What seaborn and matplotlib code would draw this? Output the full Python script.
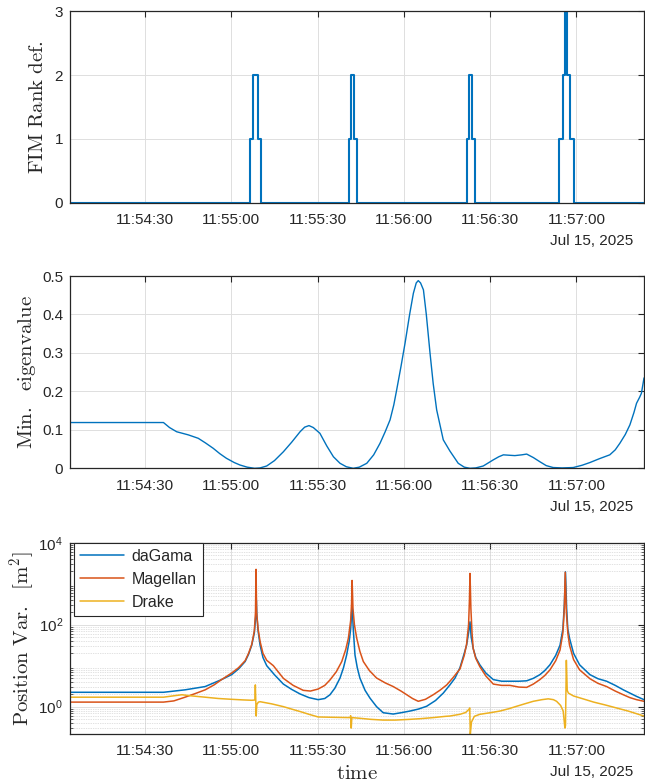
import numpy as np
import pandas as pd
import matplotlib
matplotlib.use("Agg")
import matplotlib.pyplot as plt
import matplotlib.dates as mdates
from matplotlib.ticker import LogLocator, NullFormatter, FixedLocator
import seaborn as sns

sns.set_theme(style="white")
plt.rcParams["font.family"] = ["Liberation Sans", "DejaVu Sans"]
plt.rcParams["mathtext.fontset"] = "cm"

# ---------------- data (seconds after 11:54:00, Jul 15 2025) ----------------
START = pd.Timestamp("2025-07-15 11:54:00")
X_START, X_END = 3.9, 203.5

rank_t = [3.9, 66.6, 67.6, 69.2, 70.4, 100.9, 101.6, 102.5, 103.6,
          141.8, 142.5, 143.8, 144.8, 174.0, 175.4, 176.2, 176.6, 177.6, 179.0, 203.5]
rank_v = [0, 1, 2, 1, 0, 1, 2, 1, 0, 1, 2, 1, 0, 1, 2, 3, 2, 1, 0, 0]

eig_t = [3.9, 36.4, 38.5, 41.0, 45.0, 48.5, 51.0, 53.7, 56.0, 58.3, 61.0, 63.0, 65.5,
         68.1, 70.0, 72.3, 75.0, 78.1, 81.0, 83.9, 85.5, 87.0, 88.5, 90.8, 93.2, 95.5,
         97.8, 100.0, 102.4, 104.5, 107.1, 109.5, 111.7, 113.5, 115.2, 116.5, 117.5,
         119.0, 120.4, 122.0, 123.3, 124.3, 125.0, 125.8, 126.8, 127.8, 129.1, 130.2,
         131.4, 133.7, 136.0, 138.9, 141.0, 143.0, 145.0, 147.6, 151.1, 153.0, 154.6,
         156.5, 158.6, 161.0, 162.7, 165.0, 167.3, 169.5, 171.9, 175.0, 178.9, 182.0,
         184.7, 188.0, 191.6, 193.5, 195.1, 197.0, 198.6, 200.0, 200.9, 202.0, 202.6, 203.5]
eig_v = [0.119, 0.119, 0.106, 0.095, 0.087, 0.078, 0.066, 0.052, 0.038, 0.026, 0.015,
         0.0086, 0.003, 0.0, 0.001, 0.006, 0.020, 0.043, 0.068, 0.095, 0.107, 0.111,
         0.106, 0.091, 0.058, 0.030, 0.013, 0.004, 0.0, 0.003, 0.013, 0.035, 0.065,
         0.095, 0.126, 0.165, 0.204, 0.265, 0.325, 0.400, 0.455, 0.482, 0.488, 0.482,
         0.464, 0.400, 0.299, 0.220, 0.152, 0.074, 0.045, 0.013, 0.003, 0.0, 0.001,
         0.006, 0.022, 0.030, 0.035, 0.034, 0.033, 0.035, 0.037, 0.028, 0.017, 0.007,
         0.002, 0.001, 0.002, 0.008, 0.015, 0.025, 0.035, 0.048, 0.065, 0.088, 0.113,
         0.145, 0.169, 0.185, 0.195, 0.235]

dagama_t = [3.9, 36.4, 43.9, 50.9, 56.6, 60.1, 62.5, 64.8, 66.0, 67.1, 68.0, 68.5, 68.7,
            68.9, 69.3, 70.0, 71.0, 72.3, 75.0, 78.1, 81.0, 83.9, 87.0, 90.2, 92.5, 94.3,
            96.0, 97.8, 99.0, 100.1, 101.0, 101.5, 102.0, 102.4, 103.0, 103.8, 104.7,
            106.5, 108.2, 110.5, 112.8, 116.3, 119.0, 122.1, 125.0, 127.9, 131.0, 133.7,
            136.0, 137.8, 139.5, 141.0, 141.8, 142.5, 143.0, 143.4, 144.1, 145.0, 146.4,
            148.5, 151.1, 154.0, 156.9, 160.0, 162.7, 165.0, 167.3, 169.0, 170.8, 172.8,
            174.3, 175.3, 175.8, 176.2, 176.6, 177.0, 177.6, 179.0, 181.1, 184.7, 187.5,
            190.5, 193.5, 196.3, 198.6, 200.9, 203.5]
dagama_v = [2.24, 2.24, 2.57, 3.09, 4.57, 6.03, 8.3, 12.6, 19.0, 31.6, 63.0, 160.0, 400.0,
            160.0, 71.0, 31.6, 15.8, 10.0, 6.0, 3.55, 2.63, 2.04, 1.66, 1.48, 1.58, 1.95,
            2.82, 5.0, 8.9, 18.2, 40.0, 79.0, 300.0, 79.0, 18.2, 8.9, 5.0, 2.5, 1.62, 1.0,
            0.71, 0.66, 0.71, 0.78, 0.87, 1.02, 1.41, 2.14, 3.39, 5.0, 8.9, 20.0, 31.6,
            63.0, 117.0, 50.0, 26.3, 15.8, 10.5, 6.6, 4.57, 4.17, 4.17, 4.17, 4.27, 4.9,
            6.03, 7.6, 10.5, 17.8, 31.6, 79.0, 316.0, 1950.0, 250.0, 79.0, 46.8, 20.0,
            10.5, 6.03, 4.8, 4.17, 3.3, 2.57, 2.14, 1.78, 1.48]

magellan_t = [3.9, 36.4, 40.0, 43.9, 47.5, 50.9, 54.0, 56.6, 60.1, 62.5, 64.8, 66.0, 67.1,
              68.0, 68.4, 68.6, 68.8, 69.3, 70.0, 71.0, 72.3, 74.6, 78.1, 81.5, 85.0, 87.5,
              90.2, 92.5, 94.3, 96.5, 98.4, 99.8, 100.7, 101.5, 101.8, 102.0, 102.3, 102.8,
              103.6, 104.7, 105.9, 108.0, 110.5, 113.5, 116.3, 119.0, 121.0, 123.0, 125.0,
              127.5, 130.2, 132.5, 134.9, 137.0, 139.5, 141.0, 141.8, 142.5, 142.8, 143.0,
              143.3, 143.7, 144.1, 145.0, 146.4, 148.5, 151.1, 154.0, 156.9, 160.0, 162.7,
              165.0, 167.3, 169.0, 170.8, 172.8, 174.3, 175.3, 175.8, 176.1, 176.5, 177.0,
              177.6, 179.0, 181.1, 184.7, 187.5, 190.5, 193.5, 196.3, 198.6, 200.9, 203.5]
magellan_v = [1.29, 1.29, 1.38, 1.70, 2.09, 2.57, 3.39, 4.57, 6.6, 8.9, 13.2, 20.0, 33.0,
              71.0, 200.0, 2240.0, 200.0, 79.0, 38.9, 20.0, 13.5, 10.0, 4.9, 3.3, 2.5, 2.4,
              2.69, 3.3, 4.47, 7.1, 12.6, 25.0, 46.8, 126.0, 316.0, 1200.0, 250.0, 100.0,
              46.8, 22.4, 12.6, 7.6, 5.0, 3.8, 3.09, 2.4, 1.95, 1.58, 1.35, 1.51, 1.95, 2.5,
              3.39, 5.0, 8.3, 17.8, 33.0, 100.0, 400.0, 1780.0, 250.0, 63.0, 26.3, 15.1,
              9.5, 5.6, 3.55, 3.3, 3.3, 3.0, 2.95, 3.55, 4.57, 5.75, 7.9, 13.2, 24.0, 63.0,
              250.0, 1900.0, 200.0, 63.0, 31.6, 14.1, 7.9, 4.8, 3.7, 3.09, 2.4, 1.95, 1.66,
              1.48, 1.35]

drake_t = [3.9, 36.4, 39.5, 42.8, 46.5, 50.9, 55.5, 60.1, 64.0, 67.1, 68.2, 68.35, 68.5,
           68.65, 68.85, 69.4, 70.0, 74.0, 78.1, 81.5, 83.9, 87.0, 90.2, 95.0, 101.3, 101.5,
           101.7, 101.9, 104.7, 108.5, 112.8, 117.0, 122.1, 126.0, 130.2, 134.5, 136.0,
           139.5, 141.5, 142.7, 142.9, 143.1, 143.5, 144.5, 146.4, 150.0, 153.4, 156.5,
           159.2, 162.0, 165.0, 168.0, 170.2, 172.0, 173.1, 174.5, 175.4, 176.0, 176.2,
           176.5, 176.8, 177.2, 179.0, 182.3, 186.0, 190.0, 193.9, 198.0, 203.5]
drake_v = [1.70, 1.70, 1.82, 1.95, 1.82, 1.70, 1.58, 1.51, 1.46, 1.43, 1.45, 3.39, 1.41,
           0.59, 1.12, 1.29, 1.32, 1.17, 1.0, 0.85, 0.76, 0.65, 0.56, 0.55, 0.54, 0.60,
           0.30, 0.54, 0.52, 0.49, 0.47, 0.47, 0.49, 0.51, 0.54, 0.58, 0.59, 0.65, 0.72,
           0.87, 0.93, 0.21, 0.42, 0.58, 0.65, 0.71, 0.78, 0.89, 1.02, 1.17, 1.35, 1.48,
           1.55, 1.48, 1.35, 1.07, 0.78, 0.30, 0.35, 13.5, 2.5, 2.14, 1.82, 1.55, 1.29,
           1.10, 0.93, 0.78, 0.59]

series_names = ["daGama", "Magellan", "Drake"]
series_colors = ["#0072BD", "#D95319", "#EDB120"]

X_TICK_SECONDS = [0, 30]
DATE_TEXT = "Jul 15, 2025"


def to_dt(secs):
    return START + pd.to_timedelta(np.asarray(secs, dtype=float), unit="s")


# ---------------- figure ----------------
fig = plt.figure(figsize=(6.45, 7.83), dpi=100)
W, H = 645.0, 783.0
left = 70 / W
width = 574 / W
ax1 = fig.add_axes([left, 1 - 203 / H, width, 192 / H])
ax2 = fig.add_axes([left, 1 - 468.3 / H, width, 192.3 / H])
ax3 = fig.add_axes([left, 1 - 734 / H, width, 191.3 / H])

spine_col = "#262626"
grid_col = "#dedede"

# top: rank deficiency
df_rank = pd.DataFrame({"t": to_dt(rank_t), "v": rank_v})
sns.lineplot(data=df_rank, x="t", y="v", ax=ax1, color=series_colors[0],
             linewidth=1.5, drawstyle="steps-post", estimator=None, sort=False)
ax1.set_ylim(0, 3)
ax1.set_yticks([0, 1, 2, 3])

# middle: min eigenvalue
df_eig = pd.DataFrame({"t": to_dt(eig_t), "v": eig_v})
sns.lineplot(data=df_eig, x="t", y="v", ax=ax2, color=series_colors[0],
             linewidth=1.0, estimator=None, sort=False)
ax2.set_ylim(0, 0.5)
ax2.set_yticks([0, 0.1, 0.2, 0.3, 0.4, 0.5])
ax2.set_yticklabels(["0", "0.1", "0.2", "0.3", "0.4", "0.5"])

# bottom: position variances (log)
ax3.set_yscale("log")
for name, tt, vv, col in zip(series_names,
                             [dagama_t, magellan_t, drake_t],
                             [dagama_v, magellan_v, drake_v],
                             series_colors):
    d = pd.DataFrame({"t": to_dt(tt), "v": vv})
    sns.lineplot(data=d, x="t", y="v", ax=ax3, color=col, linewidth=1.1,
                 estimator=None, sort=False, label=name)
ax3.set_ylim(0.215, 1e4)
ax3.yaxis.set_major_locator(FixedLocator([1e0, 1e2, 1e4]))
ax3.yaxis.set_minor_locator(LogLocator(base=10, subs=np.arange(2, 10), numticks=20))
ax3.yaxis.set_minor_formatter(NullFormatter())
ax3.set_yticklabels([r"$\mathregular{10^{0}}$", r"$\mathregular{10^{2}}$",
                     r"$\mathregular{10^{4}}$"])
ax3.grid(True, which="minor", axis="y", color="#c4c4c4", linestyle=(0, (1, 1.5)),
         linewidth=0.5)

leg = ax3.legend(loc="upper left", bbox_to_anchor=(0.007, 1.0), borderaxespad=0,
                 frameon=True, fancybox=False, edgecolor=spine_col, framealpha=1,
                 fontsize=11.5, handlelength=2.7, handletextpad=0.5,
                 borderpad=0.4, labelspacing=0.5)
leg.get_frame().set_linewidth(0.8)

ylabels = [r"$\mathrm{FIM\ Rank\ def.}$", r"$\mathrm{Min.\ \ eigenvalue}$",
           r"$\mathrm{Position\ Var.\ \ [m^2]}$"]
ylabel_x = [-0.040, -0.055, -0.058]

for ax, lab, lx in zip([ax1, ax2, ax3], ylabels, ylabel_x):
    ax.set_xlim(to_dt([X_START])[0], to_dt([X_END])[0])
    ax.xaxis.set_major_locator(mdates.SecondLocator(bysecond=X_TICK_SECONDS))
    ax.xaxis.set_major_formatter(mdates.DateFormatter("%H:%M:%S"))
    ax.grid(True, which="major", color=grid_col, linewidth=0.7)
    ax.set_axisbelow(True)
    for s in ax.spines.values():
        s.set_visible(True)
        s.set_color(spine_col)
        s.set_linewidth(0.9)
    ax.tick_params(axis="both", which="major", direction="in", length=4, width=0.8,
                   colors=spine_col, labelsize=11, top=True, right=True)
    ax.tick_params(axis="x", which="major", pad=7.5)
    ax.tick_params(axis="y", which="major", pad=5)
    ax.tick_params(axis="y", which="minor", direction="in", length=2, width=0.5,
                   colors=spine_col, left=True, right=True)
    ax.set_ylabel(lab, fontsize=15, color=spine_col)
    ax.yaxis.set_label_coords(lx, 0.5)
    ax.set_xlabel("")
    ax.text(0.981, -0.2005, DATE_TEXT, transform=ax.transAxes, ha="right",
            va="center", fontsize=11, color=spine_col)

ax3.set_xlabel(r"$\mathrm{time}$", fontsize=15, color=spine_col)
ax3.xaxis.set_label_coords(0.5, -0.155)

fig.savefig("out.png", dpi=100)
